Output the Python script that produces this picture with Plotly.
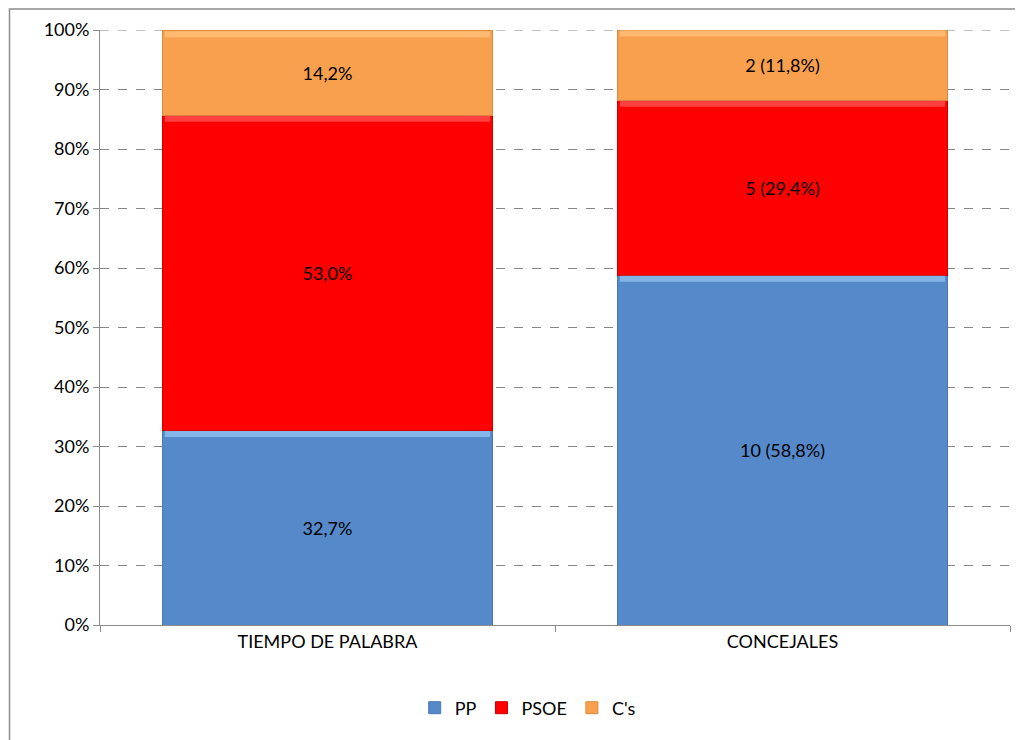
import plotly.graph_objects as go

categories = ["TIEMPO DE PALABRA", "CONCEJALES"]
series_names = ["PP", "PSOE", "C's"]
tiempo_pct = [32.7, 53.0, 14.2]
concejales_n = [10, 5, 2]
concejales_pct = [58.8, 29.4, 11.8]
colors = ["#5589CA", "#FF0000", "#F9A04E"]
edge_colors = ["#4A78B2", "#D00000", "#DC8A40"]
light_colors = ["#8FC0F0", "#FF5050", "#FFC07A"]
y_ticks = [0, 10, 20, 30, 40, 50, 60, 70, 80, 90, 100]

def fmt(v):
    return f"{v:.1f}".replace(".", ",")

BARGAP = 0.275
fig = go.Figure()
for i, name in enumerate(series_names):
    vals = [tiempo_pct[i], concejales_pct[i]]
    texts = [fmt(tiempo_pct[i]) + "%", f"{concejales_n[i]} ({fmt(concejales_pct[i])}%)"]
    fig.add_trace(go.Bar(
        x=categories, y=vals, name=name,
        marker=dict(color=colors[i], line=dict(color=edge_colors[i], width=1)),
        text=texts, textposition="inside", insidetextanchor="middle",
        textfont=dict(color="black", size=18, family="Lato"),
        hoverinfo="skip",
    ))

# bevel highlight at top of each segment (derived from data)
half = (1 - BARGAP) / 2
for ci, col in enumerate([tiempo_pct, concejales_pct]):
    cum = 0
    for si, v in enumerate(col):
        top = cum + v
        fig.add_shape(type="rect", xref="x", yref="y",
                      x0=ci - half + 0.005, x1=ci + half - 0.005,
                      y0=top - 1.1, y1=top - 0.1,
                      fillcolor=light_colors[si], line=dict(width=0), layer="above", opacity=0.8)
        cum = top

# gridline at 100% (plotly omits it at the range edge)
fig.add_shape(type="line", xref="paper", yref="y", x0=0, x1=1, y0=100, y1=100,
              line=dict(color="#858585", width=1, dash="dash"), layer="below")

# page is offset by 8px body margin
OFF = 8
W, H = 1023, 740
L, R, T, B = 100 - OFF, 21, 30 - OFF, 123
pw, ph = W - L - R, H - T - B
def px_x(x):
    return (x - OFF - L) / pw
def px_y(y):
    return (H - B - (y - OFF)) / ph

fig.update_layout(
    barmode="stack",
    bargap=BARGAP,
    width=W, height=H,
    margin=dict(l=L, r=R, t=T, b=B),
    paper_bgcolor="white", plot_bgcolor="white",
    font=dict(family="Lato", size=18, color="black"),
    showlegend=True,
    legend=dict(orientation="h", x=0.47, xanchor="center", y=px_y(708), yanchor="middle",
                font=dict(size=18, family="Lato"), itemwidth=30, traceorder="normal"),
)
fig.update_yaxes(
    range=[0, 100], tickvals=y_ticks, ticktext=[f"{v}%" for v in y_ticks],
    showgrid=True, gridcolor="#858585", griddash="dash", gridwidth=1,
    showline=True, linecolor="#8C8C8C", linewidth=1,
    ticks="outside", ticklen=6, tickcolor="#8C8C8C",
    tickfont=dict(size=18, family="Lato"), zeroline=False, automargin=False,
)
fig.update_xaxes(
    showline=True, linecolor="#8C8C8C", linewidth=1,
    ticks="outside", tickson="boundaries", ticklen=6, tickcolor="#8C8C8C",
    tickfont=dict(size=18, family="Lato"), showgrid=False, automargin=False,
)
fig.add_shape(type="rect", xref="paper", yref="paper",
              x0=px_x(9.5), x1=px_x(1040), y0=px_y(760), y1=px_y(9),
              line=dict(color="#8C8C8C", width=1.5), fillcolor="rgba(0,0,0,0)", layer="below")
fig.write_html("out.html")
